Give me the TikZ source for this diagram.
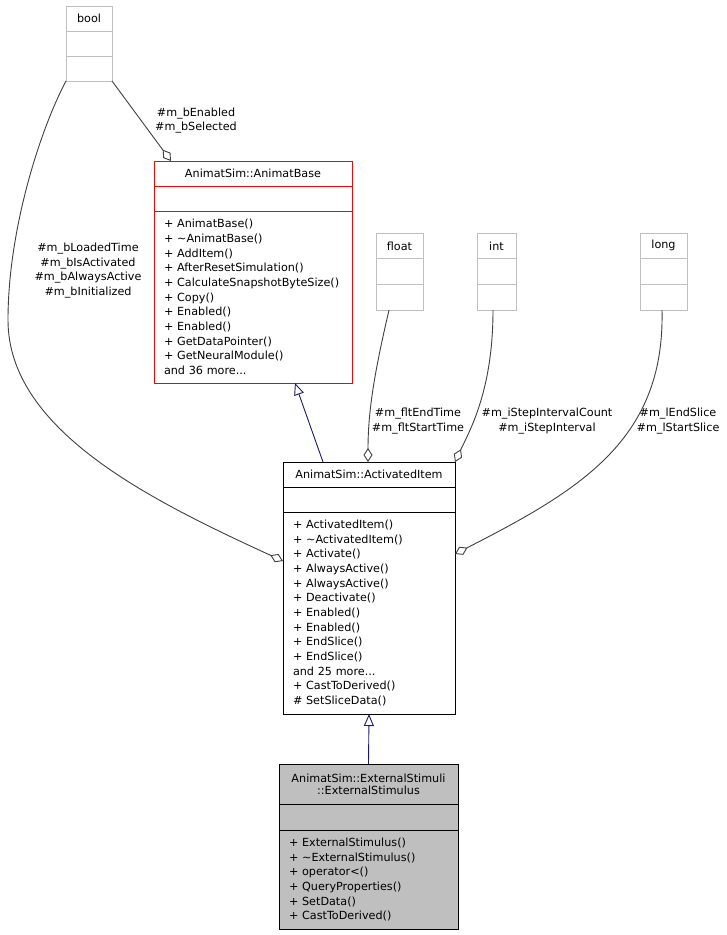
\documentclass[tikz,border=0pt]{standalone}
\usepackage{fontspec}
\setmainfont{DejaVu Sans}
\usepackage{tikz}
\usetikzlibrary{positioning,arrows.meta}
\definecolor{boxgray}{HTML}{BFBFBF}
\definecolor{edgegray}{HTML}{404040}
\definecolor{midblue}{HTML}{191970}

\begin{document}
\begin{tikzpicture}[x=1pt,y=-1pt,
  %%Estilos
  every node/.style={font=\fontsize{11.2}{14.67}\selectfont, inner sep=0pt, outer sep=0pt},
  typesec/.style={draw=boxgray, line width=1pt, minimum height=25pt},
  basesec/.style={draw=red, line width=1pt, minimum height=25pt},
  itemsec/.style={draw=black, line width=1pt, minimum height=25pt},
  stimsec/.style={draw=black, fill=boxgray, line width=1pt, minimum height=25pt},
  members/.style={align=left, inner xsep=10pt},
  aggr/.style={draw=edgegray, line width=0.9pt, -{Diamond[open, length=14pt, width=9pt]}},
  inherit/.style={draw=midblue, line width=0.9pt, -{Triangle[open, length=12pt, width=10pt]}}
  ]
  \path[use as bounding box, fill=white] (0,0) rectangle (727,935);

  %%Tipos
  \node[typesec, minimum width=46pt, anchor=north west] (bool) at (66,6) {bool};
  \node[typesec, minimum width=46pt, below=0pt of bool] (boolb) {};
  \node[typesec, minimum width=46pt, below=0pt of boolb] (boolc) {};

  \node[typesec, minimum width=47pt, minimum height=25.7pt, anchor=north west] (float) at (376,233) {float};
  \node[typesec, minimum width=47pt, minimum height=25.7pt, below=0pt of float] (floatb) {};
  \node[typesec, minimum width=47pt, minimum height=25.7pt, below=0pt of floatb] (floatc) {};

  \node[typesec, minimum width=39pt, minimum height=25.7pt, anchor=north west] (int) at (477,233) {int};
  \node[typesec, minimum width=39pt, minimum height=25.7pt, below=0pt of int] (intb) {};
  \node[typesec, minimum width=39pt, minimum height=25.7pt, below=0pt of intb] (intc) {};

  \node[typesec, minimum width=47pt, minimum height=25.7pt, anchor=north west] (long) at (640,233) {long};
  \node[typesec, minimum width=47pt, minimum height=25.7pt, below=0pt of long] (longb) {};
  \node[typesec, minimum width=47pt, minimum height=25.7pt, below=0pt of longb] (longc) {};

  %%Clases
  \node[basesec, minimum width=198pt, anchor=north west] (abt) at (154,161) {AnimatSim::AnimatBase};
  \node[basesec, minimum width=198pt, below=0pt of abt] (abe) {};
  \node[basesec, members, minimum height=172pt, text width=178pt, below=0pt of abe] (abm) {%
    + AnimatBase()\\
    + \textasciitilde AnimatBase()\\
    + AddItem()\\
    + AfterResetSimulation()\\
    + CalculateSnapshotByteSize()\\
    + Copy()\\
    + Enabled()\\
    + Enabled()\\
    + GetDataPointer()\\
    + GetNeuralModule()\\
    and 36 more...};

  \node[itemsec, minimum width=172pt, anchor=north west] (ait) at (283,462) {AnimatSim::ActivatedItem};
  \node[itemsec, minimum width=172pt, below=0pt of ait] (aie) {};
  \node[itemsec, members, minimum height=202pt, text width=152pt, below=0pt of aie] (aim) {%
    + ActivatedItem()\\
    + \textasciitilde ActivatedItem()\\
    + Activate()\\
    + AlwaysActive()\\
    + AlwaysActive()\\
    + Deactivate()\\
    + Enabled()\\
    + Enabled()\\
    + EndSlice()\\
    + EndSlice()\\
    and 25 more...\\
    + CastToDerived()\\
    \# SetSliceData()};

  \node[stimsec, minimum width=179pt, minimum height=40pt, align=center, anchor=north west] (est) at (279,764)
    {AnimatSim::ExternalStimuli\\[-2.4pt]::ExternalStimulus};
  \node[stimsec, minimum width=179pt, minimum height=26pt, below=0pt of est] (ese) {};
  \node[stimsec, members, minimum height=99pt, text width=159pt, below=0pt of ese] (esm) {%
    + ExternalStimulus()\\
    + \textasciitilde ExternalStimulus()\\
    + operator<()\\
    + QueryProperties()\\
    + SetData()\\
    + CastToDerived()};

  %%Herencia
  \draw[inherit] ([xshift=40pt]ait.north west) -- ([xshift=141pt]abm.south west);
  \draw[inherit] (est.north) -- (aim.south);

  %%Agregacion
  \draw[aggr] (boolc.south east) -- ([xshift=17pt]abt.north west);
  \draw[aggr] (boolc.south west) .. controls (40,130) and (8,230) .. (8,320)
    .. controls (8,430) and (150,500) .. ([yshift=-49pt]aim.north west);
  \draw[aggr] ([xshift=13pt]floatc.south west) .. controls (375,370) and (368,410) .. ([xshift=85pt]ait.north west);
  \draw[aggr] ([xshift=16pt]intc.south west) .. controls (493,390) and (470,430) .. (ait.north east);
  \draw[aggr] ([xshift=22pt]longc.south west) .. controls (665,440) and (580,490) .. ([yshift=-42pt]aim.north east);

  %%Etiquetas
  \node[align=center] (lsel) at (196,120.5) {\#m\_bEnabled\\\#m\_bSelected};
  \node[align=center] (lact) at (88,270.5) {\#m\_bLoadedTime\\\#m\_bIsActivated\\\#m\_bAlwaysActive\\\#m\_bInitialized};
  \node[align=center] (lflt) at (418,421) {\#m\_fltEndTime\\\#m\_fltStartTime};
  \node[align=center] (lint) at (547,421) {\#m\_iStepIntervalCount\\\#m\_iStepInterval};
  \node[align=center] (llong) at (678,421) {\#m\_lEndSlice\\\#m\_lStartSlice};
\end{tikzpicture}
\end{document}
